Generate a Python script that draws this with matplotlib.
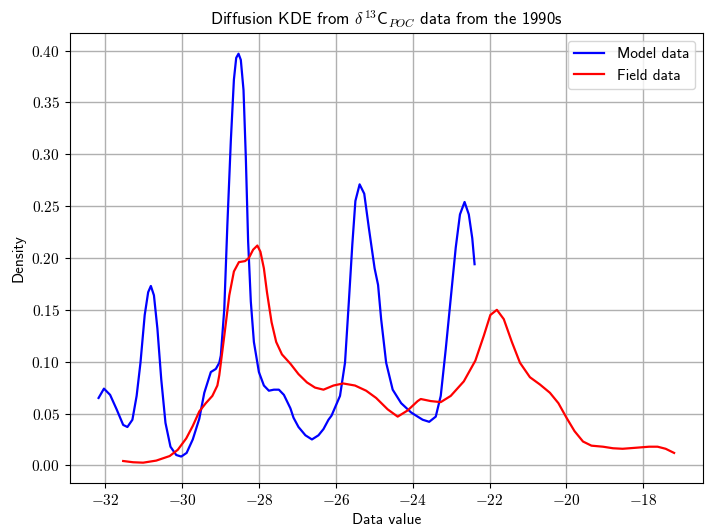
import matplotlib
matplotlib.use("Agg")
import matplotlib.pyplot as plt
from matplotlib.ticker import FuncFormatter

# Blue: model data KDE
model_x = [-32.17, -32.03, -31.87, -31.70, -31.53, -31.42, -31.29, -31.18, -31.08, -30.97,
           -30.88, -30.81, -30.73, -30.64, -30.54, -30.43, -30.30, -30.15, -30.02, -29.88,
           -29.72, -29.55, -29.42, -29.25, -29.12, -29.03, -28.99, -28.90, -28.82, -28.73,
           -28.65, -28.59, -28.53, -28.47, -28.40, -28.34, -28.28, -28.21, -28.13, -28.00,
           -27.87, -27.74, -27.61, -27.48, -27.35, -27.18, -27.10, -26.97, -26.79, -26.62,
           -26.45, -26.32, -26.19, -26.11, -25.89, -25.76, -25.66, -25.57, -25.49, -25.38,
           -25.26, -25.14, -24.99, -24.90, -24.82, -24.69, -24.52, -24.30, -24.04, -23.87,
           -23.74, -23.57, -23.40, -23.27, -23.14, -23.01, -22.88, -22.77, -22.65, -22.54,
           -22.45, -22.39]
model_y = [0.065, 0.074, 0.068, 0.054, 0.039, 0.037, 0.044, 0.067, 0.099, 0.145,
           0.167, 0.173, 0.164, 0.132, 0.083, 0.041, 0.018, 0.010, 0.0085, 0.012,
           0.025, 0.045, 0.070, 0.090, 0.093, 0.099, 0.106, 0.151, 0.232, 0.313,
           0.372, 0.393, 0.397, 0.391, 0.362, 0.297, 0.216, 0.158, 0.119, 0.090,
           0.077, 0.072, 0.073, 0.073, 0.068, 0.055, 0.046, 0.037, 0.029, 0.025,
           0.029, 0.035, 0.044, 0.048, 0.067, 0.099, 0.158, 0.213, 0.255, 0.271,
           0.262, 0.229, 0.190, 0.174, 0.141, 0.099, 0.073, 0.060, 0.051, 0.047,
           0.044, 0.042, 0.047, 0.067, 0.112, 0.161, 0.210, 0.242, 0.254, 0.242,
           0.219, 0.194]

# Red: field data KDE
field_x = [-31.53, -31.27, -31.01, -30.67, -30.32, -30.11, -29.89, -29.72, -29.55, -29.38,
           -29.21, -29.08, -29.03, -28.90, -28.77, -28.65, -28.52, -28.36, -28.26, -28.15,
           -28.04, -27.96, -27.87, -27.79, -27.67, -27.55, -27.40, -27.18, -26.97, -26.75,
           -26.54, -26.32, -26.06, -25.81, -25.50, -25.21, -24.95, -24.65, -24.39, -24.13,
           -23.87, -23.79, -23.53, -23.27, -23.01, -22.67, -22.37, -22.15, -21.98, -21.81,
           -21.63, -21.42, -21.21, -20.95, -20.69, -20.43, -20.21, -20.00, -19.79, -19.57,
           -19.35, -19.05, -18.79, -18.54, -18.19, -17.85, -17.63, -17.42, -17.20]
field_y = [0.0042, 0.003, 0.0026, 0.0046, 0.009, 0.015, 0.026, 0.038, 0.052, 0.060,
           0.067, 0.077, 0.087, 0.125, 0.164, 0.187, 0.196, 0.197, 0.200, 0.208,
           0.212, 0.206, 0.190, 0.167, 0.138, 0.119, 0.107, 0.098, 0.088, 0.080,
           0.075, 0.073, 0.077, 0.079, 0.077, 0.072, 0.065, 0.054, 0.047, 0.053,
           0.062, 0.064, 0.062, 0.061, 0.067, 0.081, 0.101, 0.125, 0.145, 0.150,
           0.141, 0.119, 0.099, 0.085, 0.078, 0.070, 0.060, 0.046, 0.033, 0.023,
           0.019, 0.018, 0.0165, 0.016, 0.017, 0.018, 0.018, 0.016, 0.012]

plt.rcParams["font.family"] = "cmss10"
plt.rcParams["mathtext.fontset"] = "cm"
plt.rcParams["axes.unicode_minus"] = False

fig, ax = plt.subplots(figsize=(7.05, 5.28), dpi=100)
ax.plot(model_x, model_y, color="blue", lw=1.6, label="Model data")
ax.plot(field_x, field_y, color="red", lw=1.6, label="Field data")

ax.xaxis.set_major_formatter(FuncFormatter(lambda v, p: rf"${v:g}$"))
ax.yaxis.set_major_formatter(FuncFormatter(lambda v, p: rf"${v:.2f}$"))
ax.tick_params(labelsize=11)

ax.grid(True, color="#b0b0b0", lw=1)
ax.set_title(r"Diffusion KDE from $\delta^{13}$C${}_{POC}$ data from the 1990s", fontsize=12)
ax.set_xlabel("Data value", fontsize=11)
ax.set_ylabel("Density", fontsize=11)
ax.legend(loc="upper right", fontsize=11)

fig.subplots_adjust(left=0.099, right=0.997, top=0.937, bottom=0.085)
fig.savefig("out.png")
